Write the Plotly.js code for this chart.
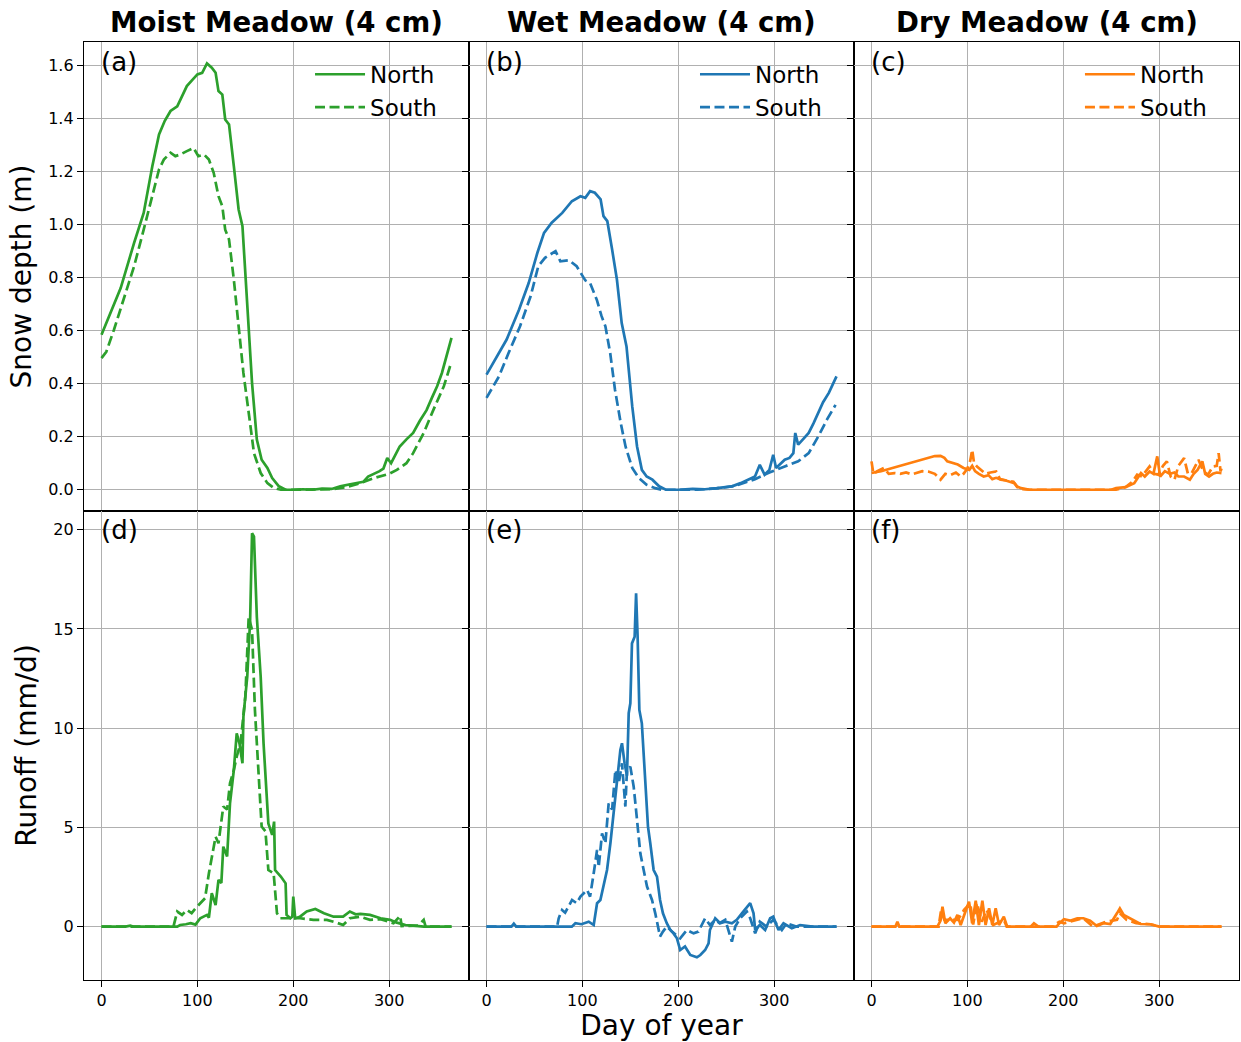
<!DOCTYPE html>
<html>
<head>
<meta charset="utf-8">
<script src="https://cdn.plot.ly/plotly-3.0.1.min.js"></script>
<style>html,body{margin:0;padding:0;background:#fff;}#chart{width:1241px;height:1042px;}</style>
</head>
<body>
<div id="chart"></div>
<script>
// ---------- Data (day of year, value) ----------
const COLUMN_TITLES = ["Moist Meadow (4 cm)", "Wet Meadow (4 cm)", "Dry Meadow (4 cm)"];
const PANEL_LABELS = ["(a)", "(b)", "(c)", "(d)", "(e)", "(f)"];
const SERIES_NAMES = ["North", "South"];

// Snow depth (m) - Moist meadow
const MS_N_D = [0,10,20,34,44,53,60,66,72,79,85,89,95,100,105,110,115,119,122,126,129,133,138,143,147,152,157,162,167,173,178,185,192,200,210,220,230,240,249,258,265,273,278,284,290,294,298,302,306,311,318,325,332,339,345,350,355,358,362,365];
const MS_N_V = [0.584,0.67,0.76,0.93,1.043,1.219,1.339,1.39,1.427,1.445,1.49,1.521,1.545,1.565,1.571,1.606,1.59,1.571,1.502,1.489,1.395,1.376,1.219,1.056,0.993,0.691,0.402,0.189,0.113,0.082,0.044,0.013,0,0,0.002,0,0.004,0.003,0.013,0.02,0.025,0.03,0.05,0.06,0.07,0.08,0.12,0.1,0.13,0.163,0.19,0.214,0.26,0.30,0.35,0.39,0.44,0.478,0.53,0.572];
const MS_S_D = [0,5,13,23,34,44,53,60,65,72,77,82,89,96,101,107,112,117,122,126,129,133,138,143,148,154,159,166,173,180,187,200,220,240,255,270,285,300,308,318,325,336,346,357,364];
const MS_S_V = [0.496,0.52,0.603,0.716,0.842,0.98,1.106,1.207,1.244,1.27,1.257,1.263,1.276,1.288,1.257,1.263,1.244,1.194,1.106,1.068,0.98,0.943,0.792,0.628,0.44,0.277,0.138,0.063,0.025,0.006,0,0,0,0.002,0.01,0.025,0.045,0.06,0.075,0.1,0.138,0.214,0.30,0.39,0.471];

// Snow depth (m) - Wet meadow
const WS_N_D = [0,13,21,34,44,53,60,68,79,89,98,103,108,113,119,122,126,131,136,141,146,152,157,162,167,173,180,187,200,215,228,240,256,265,273,280,285,290,295,299,302,306,311,316,320,322,325,330,336,341,346,351,357,361,365];
const WS_N_V = [0.434,0.515,0.566,0.679,0.779,0.892,0.968,1.006,1.043,1.087,1.106,1.1,1.125,1.119,1.094,1.031,1.012,0.905,0.792,0.628,0.54,0.314,0.163,0.075,0.05,0.038,0.013,0,0,0.003,0.002,0.006,0.013,0.025,0.038,0.05,0.094,0.057,0.075,0.132,0.082,0.095,0.113,0.12,0.138,0.214,0.17,0.19,0.214,0.25,0.289,0.33,0.365,0.395,0.427];
const WS_S_D = [0,13,23,35,46,54,61,72,77,86,94,100,103,108,115,120,124,129,134,140,145,152,159,167,176,183,200,220,240,260,280,295,311,325,336,346,355,364];
const WS_S_V = [0.346,0.427,0.515,0.616,0.729,0.842,0.874,0.899,0.861,0.865,0.842,0.804,0.789,0.779,0.716,0.654,0.616,0.515,0.377,0.251,0.163,0.082,0.044,0.019,0.006,0,0,0,0.005,0.015,0.04,0.065,0.088,0.107,0.138,0.201,0.264,0.32];

// Snow depth (m) - Dry meadow
const DS_N_D = [0,10,20,30,40,50,60,66,72,76,79,85,90,96,102,105,108,112,117,122,126,130,135,140,145,149,152,156,165,250,255,265,274,277,281,285,290,294,298,301,306,311,316,320,326,332,336,340,345,348,352,356,360,365];
const DS_N_V = [0.063,0.07,0.08,0.09,0.1,0.11,0.12,0.127,0.128,0.12,0.107,0.1,0.095,0.082,0.075,0.09,0.07,0.06,0.05,0.055,0.04,0.045,0.038,0.035,0.03,0.025,0.012,0.006,0,0,0.006,0.01,0.025,0.04,0.063,0.05,0.069,0.06,0.126,0.05,0.07,0.06,0.065,0.05,0.05,0.038,0.06,0.075,0.107,0.06,0.05,0.06,0.065,0.063];
const DS_S_D = [0,2,6,13,18,24,30,36,42,48,53,60,66,72,77,82,88,93,96,100,103,105,107,110,114,119,124,130,134,140,148,152,156,165,255,265,272,277,282,290,295,299,304,308,312,316,320,326,330,334,338,341,346,351,356,360,362,364,365];
const DS_S_V = [0.107,0.06,0.07,0.082,0.06,0.063,0.06,0.065,0.058,0.063,0.07,0.068,0.06,0.038,0.06,0.055,0.065,0.05,0.06,0.08,0.11,0.151,0.1,0.088,0.075,0.06,0.065,0.069,0.04,0.035,0.03,0.01,0.003,0,0,0.01,0.03,0.057,0.05,0.088,0.06,0.057,0.09,0.107,0.05,0.038,0.09,0.119,0.06,0.063,0.09,0.113,0.07,0.057,0.088,0.09,0.138,0.069,0.08];

// Runoff (mm/d) - Moist meadow
const MR_N_D = [0,25,30,33,79,82,88,93,98,103,110,112,115,119,122,125,127,131,134,138,141,144,147,148,152,155,157,159,162,166,169,173,174,178,180,181,187,192,193,197,199,200,202,207,214,223,232,242,252,259,265,270,280,291,301,308,317,325,336,365];
const MR_N_V = [0,0,0.05,0,0,0.08,0.12,0.17,0.1,0.42,0.59,0.45,1.68,1.09,2.35,2.2,4.03,3.53,6.21,7.89,9.74,9.2,8.23,10.58,12.59,15.45,19.82,19.65,15.6,12.6,9.24,5.88,5.2,4.62,5.29,2.85,2.52,2.18,0.59,0.42,0.5,1.51,0.42,0.5,0.76,0.89,0.67,0.5,0.5,0.76,0.62,0.64,0.59,0.42,0.34,0.2,0.08,0.05,0,0];
const MR_S_D = [0,75,79,84,89,94,98,103,108,112,115,119,122,127,131,134,138,141,145,150,153.5,157,160,164,167,171,174,179.5,183,186.5,193,207,221,235,245,252,259,270,280,291,304.5,311.5,313,320,330,336,338,365];
const MR_S_V = [0,0,0.76,0.59,0.84,0.68,0.92,1.18,1.43,2.69,3.53,4.53,4.2,6.05,5.9,7.22,7.89,8.56,9.24,11.59,15.6,14.95,10.92,7.56,5.04,4.8,2.85,2.69,0.67,0.42,0.42,0.42,0.34,0.34,0.2,0.08,0.42,0.5,0.34,0.37,0.17,0.54,0.03,0.05,0.05,0.34,0,0];

// Runoff (mm/d) - Wet meadow
const WR_N_D = [0,26,28.5,31,89,92.7,99,106.6,111.8,115.3,118.75,122.2,125.7,129.2,132.6,136,139.6,141.3,144,146.5,148.3,150,151.7,154.5,156,157.6,159.4,162,165.6,168.4,170.8,174.3,177.8,181,184,188,191.7,195,198.6,202,207,212.5,219.4,223,228,231.6,233,238.5,243.7,249,255.9,261,266.3,271.5,275,278.5,280.2,285,290.6,295.8,299,304.5,309.7,318.4,327,340,365];
const WR_N_V = [0,0,0.15,0,0,0.17,0.12,0.25,0.08,1.18,1.34,2.18,2.85,4.2,5.71,7.22,8.9,9.24,8.23,7.6,10.75,11.25,14.27,14.6,16.79,14.6,10.92,10.24,7.56,5.04,4.2,2.85,2.52,1.34,0.67,0.17,-0.17,-0.34,-0.59,-1.18,-1.0,-1.43,-1.55,-1.43,-1.18,-0.84,-0.17,0.42,0.17,0.25,0.17,0.34,0.67,1.0,1.18,0.67,-0.17,0.08,-0.17,0.42,0.5,-0.17,0.17,-0.08,0.08,0,0];
const WR_S_D = [0,73.6,75.3,78.8,82,89.2,94,98,104.9,108,111.8,115.3,117,120.5,124,127.4,131,134.4,138,141.3,144.8,146.5,150,153.5,157,160.4,163.9,167.4,172.6,176,181,184,188,193.4,202,209,216,221,228,233,238.5,243,249,255.9,259.4,264.6,271.5,275,280.2,285,292,299,308,313,323,365];
const WR_S_V = [0,0,0.42,0.84,0.7,1.34,1.18,1.51,1.85,1.51,2.69,3.86,3.0,4.7,4.2,6.21,5.9,7.89,7.22,8.23,6.05,7.89,8.06,7.05,5.37,3.69,2.85,2.02,1.34,0.67,-0.5,-0.25,0,-0.25,-0.59,-0.17,-0.34,-0.25,0.42,0.08,0.34,0.17,0.34,-0.76,0,0.42,0.76,0.42,-0.34,0.25,0,0.34,-0.17,0.17,0,0];

// Runoff (mm/d) - Dry meadow
const DR_N_D = [0,25,27,29,68.75,72,74,77,82,86,89.6,93,98,101.7,105,108.7,112,115.6,119,122.6,126,129.5,133,138,141.5,166,169.4,174,193,196,200.7,207,214.6,221,228,235,242,249,256,259,263,270,280.5,291,300,365];
const DR_N_V = [0,0,0.25,0,0,0.3,1.0,0.17,0.42,0.2,0.59,0.08,0.76,1.26,0.17,1.31,0.08,1.31,0.08,0.92,0.08,0.92,0.08,0.5,0,0,0.17,0,0,0.17,0.37,0.3,0.42,0.42,0.3,0.03,0.17,0.13,0.67,0.92,0.59,0.42,0.13,0.12,0,0];
const DR_S_D = [0,70,72.5,76,83,90,96.5,103,106,110,115,120,127,138,141,190,190.6,196,200.7,207,221,231,245,256,259,266,276,291,300,365];
const DR_S_V = [0,0,0.8,0.34,0.34,0.34,0.84,1.18,0.1,1.18,0.25,0.84,0.08,0.34,0,0,0.08,0.25,0.17,0.25,0.42,0,0.25,0.34,0.67,0.34,0.17,0.12,0,0];

const X_TICKS = [0, 100, 200, 300];
const SNOW_TICKS = [0.0, 0.2, 0.4, 0.6, 0.8, 1.0, 1.2, 1.4, 1.6];
const RUNOFF_TICKS = [0, 5, 10, 15, 20];

// ---------- Styling ----------
const COLORS = ["#2ca02c", "#1f77b4", "#ff7f0e"];
const FONT = "DejaVu Sans";
const LW = 2.7;
const DASH = "10px,4.5px";

const panels = [
  [MS_N_D, MS_N_V, MS_S_D, MS_S_V],
  [WS_N_D, WS_N_V, WS_S_D, WS_S_V],
  [DS_N_D, DS_N_V, DS_S_D, DS_S_V],
  [MR_N_D, MR_N_V, MR_S_D, MR_S_V],
  [WR_N_D, WR_N_V, WR_S_D, WR_S_V],
  [DR_N_D, DR_N_V, DR_S_D, DR_S_V]
];
const legendIds = ["legend", "legend2", "legend3"];

const traces = [];
panels.forEach((p, i) => {
  const col = i % 3;
  const top = i < 3;
  const ax = i === 0 ? "" : String(i + 1);
  [0, 1].forEach(k => {
    traces.push({
      type: "scatter", mode: "lines",
      x: p[k * 2], y: p[k * 2 + 1],
      xaxis: "x" + ax, yaxis: "y" + ax,
      name: SERIES_NAMES[k],
      line: {color: COLORS[col], width: LW, dash: k === 0 ? "solid" : DASH},
      showlegend: top,
      legend: legendIds[col],
      hoverinfo: "skip"
    });
  });
});

const XR = [-18.25, 383.25];
const YR_TOP = [-0.080, 1.687];
const YR_BOT = [-2.69, 20.94];
const xDom = [[0, 1/3], [1/3, 2/3], [2/3, 1]];
const gridC = "#b0b0b0";
const AXIS_TITLE_FONT = {size: 28, family: FONT, color: "#000"};

const layout = {
  width: 1241, height: 1042,
  margin: {l: 84, r: 2, t: 42, b: 62},
  paper_bgcolor: "#fff", plot_bgcolor: "#fff",
  font: {family: FONT, color: "#000"},
  annotations: [],
  showlegend: true
};

for (let i = 0; i < 6; i++) {
  const col = i % 3;
  const top = i < 3;
  const ax = i === 0 ? "" : String(i + 1);
  layout["xaxis" + ax] = {
    domain: xDom[col], anchor: "y" + ax, range: XR,
    tickvals: X_TICKS, ticktext: X_TICKS.map(String),
    showticklabels: !top, ticks: top ? "" : "outside", ticklen: 6, tickcolor: "#000",
    tickfont: {size: 16, family: FONT, color: "#000"},
    showgrid: true, gridcolor: gridC, gridwidth: 1, zeroline: false,
    showline: true, linecolor: "#000", linewidth: 1.2, mirror: true,
    title: (i === 4) ? {text: "Day of year", font: AXIS_TITLE_FONT, standoff: 6} : {text: ""}
  };
  const ticks = top ? SNOW_TICKS : RUNOFF_TICKS;
  layout["yaxis" + ax] = {
    domain: top ? [0.5, 1] : [0, 0.5], anchor: "x" + ax,
    range: top ? YR_TOP : YR_BOT,
    tickvals: ticks, ticktext: ticks.map(v => top ? v.toFixed(1) : String(v)),
    showticklabels: col === 0, ticks: "outside", ticklen: 6, tickcolor: "#000",
    tickfont: {size: 16, family: FONT, color: "#000"},
    showgrid: true, gridcolor: gridC, gridwidth: 1, zeroline: false,
    showline: true, linecolor: "#000", linewidth: 1.2, mirror: true,
    title: (i === 0) ? {text: "Snow depth (m)", font: AXIS_TITLE_FONT, standoff: 8}
         : (i === 3) ? {text: "Runoff (mm/d)", font: AXIS_TITLE_FONT, standoff: 8}
         : {text: ""}
  };
  layout.annotations.push({
    xref: "x" + ax + " domain", yref: "y" + ax + " domain",
    x: 0.04, y: top ? 0.958 : 0.96, xanchor: "left", yanchor: "middle",
    text: PANEL_LABELS[i], showarrow: false,
    font: {size: 26, family: FONT, color: "#000"}
  });
}

COLUMN_TITLES.forEach((t, c) => {
  layout.annotations.push({
    xref: "paper", yref: "paper",
    x: (c + 0.5) / 3, y: 1.0205, xanchor: "center", yanchor: "middle",
    text: "<b>" + t + "</b>", showarrow: false,
    font: {size: 27.6, family: FONT, color: "#000"}
  });
});

const legX = [0.1957, 0.5290, 0.8623];
legendIds.forEach((id, c) => {
  layout[id] = {
    x: legX[c], y: 0.9885, xanchor: "left", yanchor: "top",
    bgcolor: "rgba(255,255,255,0)", borderwidth: 0,
    font: {size: 23, family: FONT, color: "#000"},
    itemwidth: 50, tracegroupgap: 0
  };
});

Plotly.newPlot("chart", traces, layout, {displayModeBar: false, staticPlot: true});
</script>
</body>
</html>
